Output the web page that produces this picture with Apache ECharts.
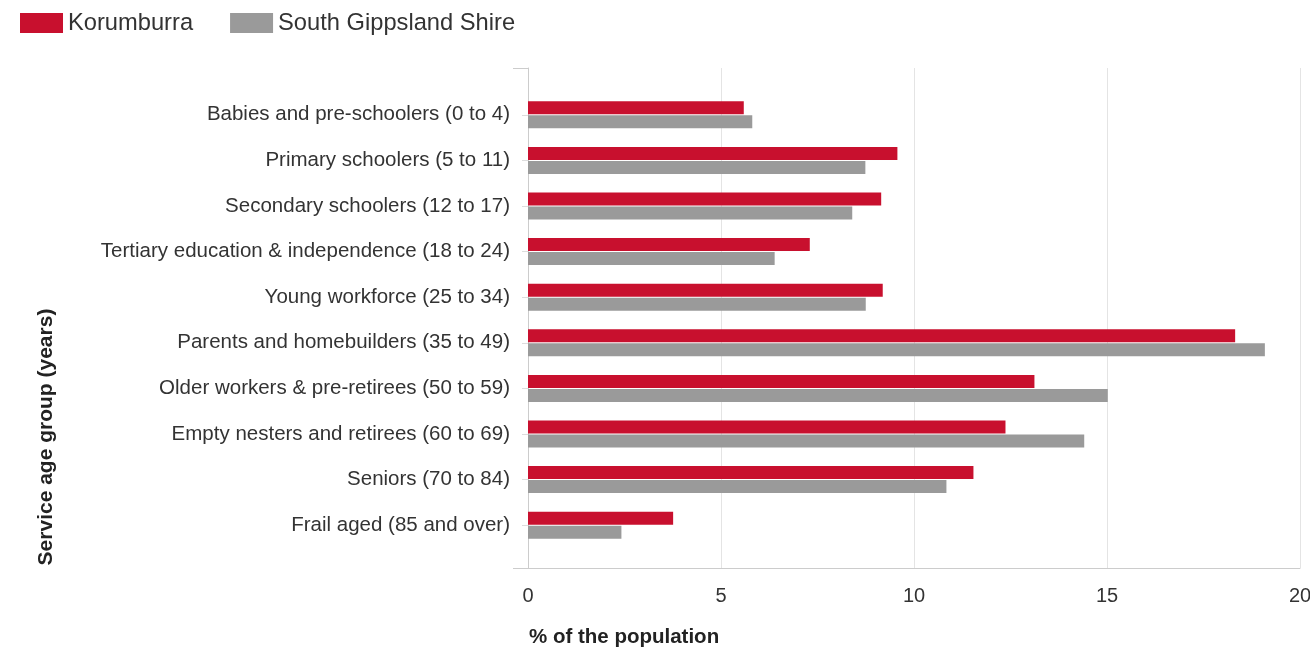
<!DOCTYPE html>
<html>
<head>
<meta charset="utf-8">
<script src="https://cdn.jsdelivr.net/npm/echarts@6/dist/echarts.min.js"></script>
<style>
html,body{margin:0;padding:0;background:#fff;}
#chart{width:1310px;height:650px;}
</style>
</head>
<body>
<div id="chart"></div>
<script>
const categories = [
  "Babies and pre-schoolers (0 to 4)",
  "Primary schoolers (5 to 11)",
  "Secondary schoolers (12 to 17)",
  "Tertiary education & independence (18 to 24)",
  "Young workforce (25 to 34)",
  "Parents and homebuilders (35 to 49)",
  "Older workers & pre-retirees (50 to 59)",
  "Empty nesters and retirees (60 to 69)",
  "Seniors (70 to 84)",
  "Frail aged (85 and over)"
];
const korumburra = [5.59, 9.57, 9.15, 7.30, 9.19, 18.32, 13.12, 12.37, 11.54, 3.76];
const southGippsland = [5.81, 8.74, 8.40, 6.39, 8.75, 19.09, 15.02, 14.41, 10.84, 2.42];
const seriesNames = ["Korumburra", "South Gippsland Shire"];
const xTicks = [0, 5, 10, 15, 20];
const xAxisTitle = "% of the population";
const yAxisTitle = "Service age group (years)";

const FONT = "'Liberation Sans', Arial, sans-serif";
const chart = echarts.init(document.getElementById('chart'), null, {renderer: 'canvas'});
chart.setOption({
  animation: false,
  backgroundColor: '#fff',
  textStyle: {fontFamily: FONT},
  title: {
    text: xAxisTitle, left: 524, top: 622, padding: 5,
    textStyle: {fontFamily: FONT, fontSize: 20.5, fontWeight: 'bold', color: '#222'}
  },
  legend: {
    left: 15, top: 6, icon: 'rect', itemWidth: 43, itemHeight: 20, itemGap: 37,
    data: seriesNames,
    textStyle: {fontFamily: FONT, fontSize: 23.7, color: '#333'}
  },
  graphic: [{
    type: 'text', x: 46, y: 437, rotation: Math.PI / 2,
    style: {text: yAxisTitle, font: 'bold 21px ' + FONT, fill: '#222', align: 'center', verticalAlign: 'middle'}
  }],
  grid: [
    {left: 528, right: 10, top: 68, height: 500, outerBoundsMode: 'none', containLabel: false},
    {left: 528, right: 10, top: 92, height: 456, outerBoundsMode: 'none', containLabel: false}
  ],
  xAxis: [
    {
      type: 'value', gridIndex: 0, min: xTicks[0], max: xTicks[xTicks.length - 1], interval: 5,
      axisLine: {show: true, lineStyle: {color: '#cccccc'}},
      axisTick: {show: false},
      splitLine: {show: true, lineStyle: {color: '#e4e4e4'}},
      axisLabel: {fontFamily: FONT, fontSize: 20, color: '#333', margin: 18}
    },
    {
      type: 'value', gridIndex: 1, min: xTicks[0], max: xTicks[xTicks.length - 1], show: false
    }
  ],
  yAxis: [
    {
      type: 'value', gridIndex: 0, min: 0, max: 1, interval: 1,
      axisLine: {show: true, lineStyle: {color: '#cccccc'}},
      axisTick: {show: true, length: 15, lineStyle: {color: '#cccccc'}},
      axisLabel: {show: false},
      splitLine: {show: false}
    },
    {
      type: 'category', gridIndex: 1, inverse: true, data: categories,
      axisLine: {show: false},
      axisTick: {show: true, length: 6, alignWithLabel: true, lineStyle: {color: '#dddddd'}},
      axisLabel: {fontFamily: FONT, fontSize: 20.5, color: '#333', margin: 18}
    }
  ],
  series: [
    {
      name: seriesNames[0], type: 'bar', xAxisIndex: 1, yAxisIndex: 1,
      data: korumburra, barWidth: 13, barGap: '8%',
      itemStyle: {color: '#c8102e'}
    },
    {
      name: seriesNames[1], type: 'bar', xAxisIndex: 1, yAxisIndex: 1,
      data: southGippsland, barWidth: 13, barGap: '8%',
      itemStyle: {color: '#9a9a9a'}
    }
  ]
});
</script>
</body>
</html>
